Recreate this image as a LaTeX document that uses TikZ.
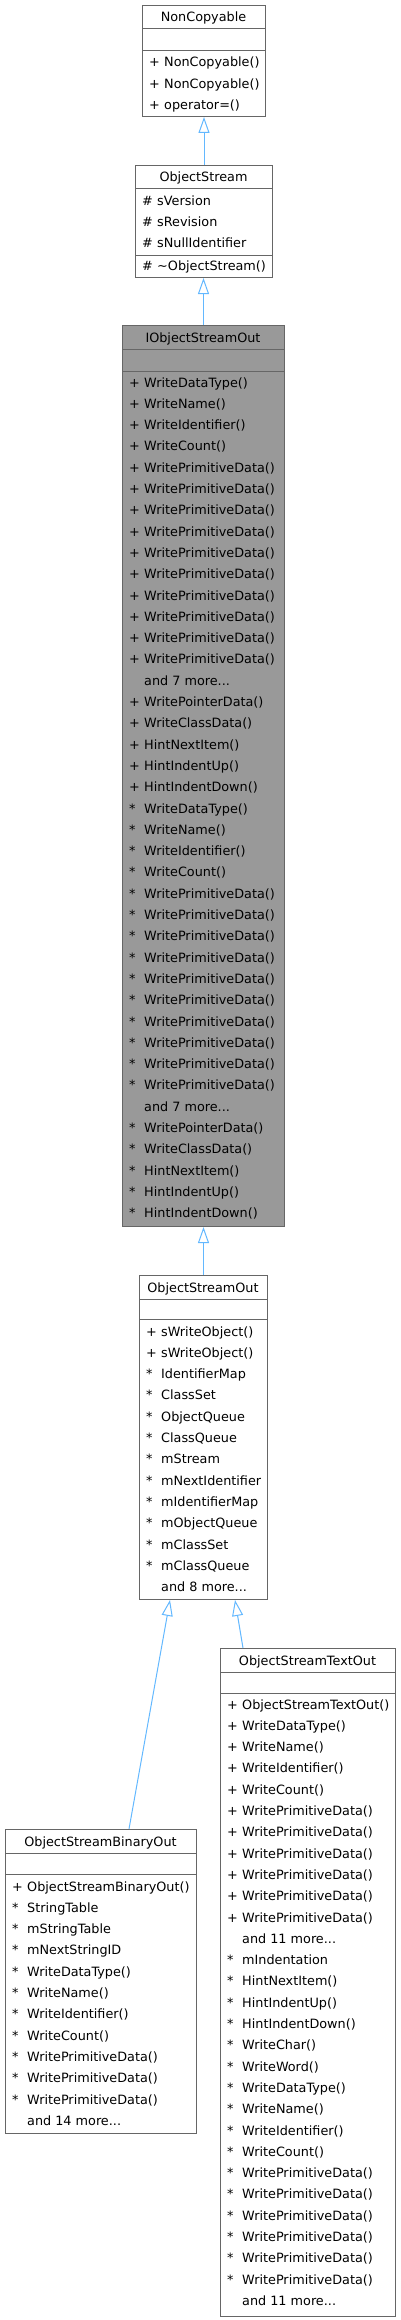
\documentclass[tikz,border=0pt]{standalone}
\usepackage{fontspec}
\setmainfont{DejaVu Sans}
\usetikzlibrary{arrows.meta,calc}

\definecolor{boxgray}{HTML}{666666}
\definecolor{focusgray}{HTML}{999999}
\definecolor{inheritblue}{HTML}{63B8FF}

\newcommand{\moredots}{...}
% class box: name, left, top, right, bottom, divider 1, divider 2, title, fill
\newcommand{\classbox}[9]{%
  \node[classbox,fill=#9,minimum width={(#4-#2)*1pt},minimum height={(#5-#3)*1pt},anchor=north west] (#1) at (#2,#3) {};
  \draw[boxline] (#1.west |- 0,#6) -- (#1.east |- 0,#6);
  \draw[boxline] (#1.west |- 0,#7) -- (#1.east |- 0,#7);
  \node[rowtext,anchor=base] (#1-title) at ({(#2+#4)/2},{(#3+#6)/2+5}) {#8};
}
% member rows: name, left, first row centre, list of marker/text
\newcommand{\classrows}[4]{%
  \foreach \m/\t [count=\i from 0] in {#4} {
    \node[rowtext] (#1-m\i) at (#2+7,#3+\i*21.3+5) {\m};
    \node[rowtext] (#1-t\i) at (#2+22,#3+\i*21.3+5) {\t};
  }
}

\begin{document}
\begin{tikzpicture}[x=1pt,y=-1pt,
    classbox/.style={draw=boxgray,line width=1pt,rectangle,inner sep=0},
    boxline/.style={draw=boxgray,line width=1pt},
    rowtext/.style={anchor=base west,inner sep=0,font=\fontsize{12.8}{16}\selectfont},
    inherit/.style={draw=inheritblue,line width=1pt,-{Triangle[length=16pt,width=11pt,fill=white]}}]
    \useasboundingbox (0,0) rectangle (400,2320);

    \classbox{noncopyable}{142}{5}{265}{116}{29}{51}{NonCopyable}{white}
    \classrows{noncopyable}{142}{62}{+/NonCopyable(),+/NonCopyable(),+/operator=()}

    \classbox{objectstream}{135}{165}{272}{277}{189}{255}{ObjectStream}{white}
    \classrows{objectstream}{135}{200}{\#/sVersion,\#/sRevision,\#/sNullIdentifier}
    \classrows{objectstreamx}{135}{265}{\#/\textasciitilde ObjectStream()}

    \classbox{iobjectstreamout}{122}{325}{284}{1226}{349}{371}{IObjectStreamOut}{focusgray}
    \classrows{iobjectstreamout}{122}{382}{+/WriteDataType(),+/WriteName(),+/WriteIdentifier(),+/WriteCount(),
      +/WritePrimitiveData(),+/WritePrimitiveData(),+/WritePrimitiveData(),+/WritePrimitiveData(),+/WritePrimitiveData(),
      +/WritePrimitiveData(),+/WritePrimitiveData(),+/WritePrimitiveData(),+/WritePrimitiveData(),+/WritePrimitiveData(),
      {}/and 7 more\moredots,+/WritePointerData(),+/WriteClassData(),+/HintNextItem(),+/HintIndentUp(),+/HintIndentDown(),
      */WriteDataType(),*/WriteName(),*/WriteIdentifier(),*/WriteCount(),
      */WritePrimitiveData(),*/WritePrimitiveData(),*/WritePrimitiveData(),*/WritePrimitiveData(),*/WritePrimitiveData(),
      */WritePrimitiveData(),*/WritePrimitiveData(),*/WritePrimitiveData(),*/WritePrimitiveData(),*/WritePrimitiveData(),
      {}/and 7 more\moredots,*/WritePointerData(),*/WriteClassData(),*/HintNextItem(),*/HintIndentUp(),*/HintIndentDown()}

    \classbox{objectstreamout}{139}{1275}{267}{1599}{1299}{1319}{ObjectStreamOut}{white}
    \classrows{objectstreamout}{139}{1331}{+/sWriteObject(),+/sWriteObject(),*/IdentifierMap,*/ClassSet,*/ObjectQueue,
      */ClassQueue,*/mStream,*/mNextIdentifier,*/mIdentifierMap,*/mObjectQueue,*/mClassSet,*/mClassQueue,{}/and 8 more\moredots}

    \classbox{binaryout}{5}{1829}{196}{2133}{1853}{1874}{ObjectStreamBinaryOut}{white}
    \classrows{binaryout}{5}{1886}{+/ObjectStreamBinaryOut(),*/StringTable,*/mStringTable,*/mNextStringID,
      */WriteDataType(),*/WriteName(),*/WriteIdentifier(),*/WriteCount(),
      */WritePrimitiveData(),*/WritePrimitiveData(),*/WritePrimitiveData(),{}/and 14 more\moredots}

    \classbox{textout}{220}{1648}{395}{2316}{1672}{1693}{ObjectStreamTextOut}{white}
    \classrows{textout}{220}{1704}{+/ObjectStreamTextOut(),+/WriteDataType(),+/WriteName(),+/WriteIdentifier(),+/WriteCount(),
      +/WritePrimitiveData(),+/WritePrimitiveData(),+/WritePrimitiveData(),+/WritePrimitiveData(),+/WritePrimitiveData(),
      +/WritePrimitiveData(),{}/and 11 more\moredots,*/mIndentation,*/HintNextItem(),*/HintIndentUp(),*/HintIndentDown(),
      */WriteChar(),*/WriteWord(),*/WriteDataType(),*/WriteName(),*/WriteIdentifier(),*/WriteCount(),
      */WritePrimitiveData(),*/WritePrimitiveData(),*/WritePrimitiveData(),*/WritePrimitiveData(),*/WritePrimitiveData(),
      */WritePrimitiveData(),{}/and 11 more\moredots}

    % inheritance
    \draw[inherit] (objectstream.north) -- (objectstream.north |- noncopyable.south);
    \draw[inherit] (iobjectstreamout.north) -- (iobjectstreamout.north |- objectstream.south);
    \draw[inherit] (objectstreamout.north) -- (objectstreamout.north |- iobjectstreamout.south);
    \draw[inherit] ($(binaryout.north west)+(124,0)$) -- ($(objectstreamout.south west)+(31,0)$);
    \draw[inherit] ($(textout.north west)+(23,0)$) -- ($(objectstreamout.south west)+(96,0)$);
\end{tikzpicture}
\end{document}
